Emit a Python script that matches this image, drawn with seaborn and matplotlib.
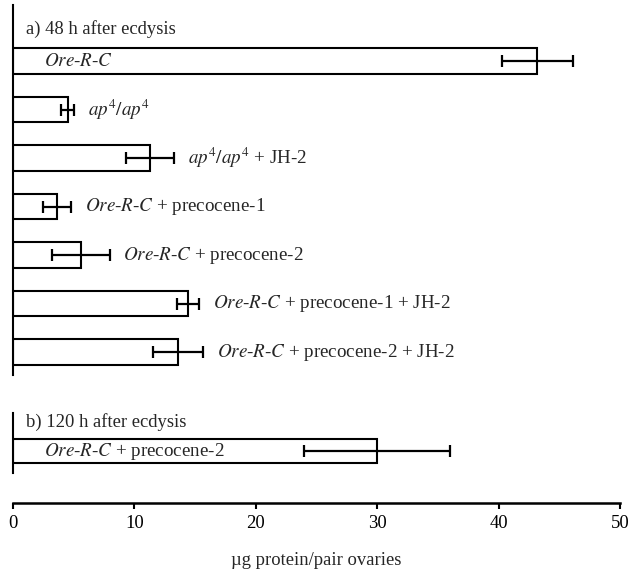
import numpy as np
import matplotlib
matplotlib.use("Agg")
import matplotlib.pyplot as plt
import seaborn as sns

# --- DATA ---
labels_a = [
    r"$Ore$-$R$-$C$",
    r"$ap^4/ap^4$",
    r"$ap^4/ap^4$ + JH-2",
    r"$Ore$-$R$-$C$ + precocene-1",
    r"$Ore$-$R$-$C$ + precocene-2",
    r"$Ore$-$R$-$C$ + precocene-1 + JH-2",
    r"$Ore$-$R$-$C$ + precocene-2 + JH-2",
]
means_a = [43.2, 4.5, 11.3, 3.6, 5.6, 14.4, 13.6]
errs_a = [2.9, 0.55, 2.0, 1.15, 2.35, 0.9, 2.05]

labels_b = [r"$Ore$-$R$-$C$ + precocene-2"]
means_b = [30.0]
errs_b = [6.0]

title_a = "a) 48 h after ecdysis"
title_b = "b) 120 h after ecdysis"
xlabel = "µg protein/pair ovaries"
xticks = [0, 10, 20, 30, 40, 50]

# --- STYLE ---
sns.set_style("ticks")
plt.rcParams["font.family"] = ["Liberation Serif", "DejaVu Serif"]
plt.rcParams["mathtext.fontset"] = "stix"

W, H = 629, 570
X0, X1 = 13, 620
FS = 13.4
FS_LAB = 13.7


def fig_axes(fig, top_px, bottom_px):
    return fig.add_axes([X0 / W, 1 - bottom_px / H, (X1 - X0) / W, (bottom_px - top_px) / H])


def draw_panel(ax, labels, means, errs, width, ylim, title, title_y):
    sns.barplot(x=means, y=labels, orient="h", color="white", edgecolor="black",
                linewidth=1.5, width=width, errorbar=None, ax=ax)
    pos = np.arange(len(means))
    ax.errorbar(means, pos, xerr=errs, fmt="none", ecolor="black",
                elinewidth=1.6, capsize=4.5, capthick=1.6)
    for m, e, p, lab in zip(means, errs, pos, labels):
        if m > 25:
            ax.annotate(lab, xy=(0, p), xytext=(22, 0), textcoords="offset points",
                        va="center", ha="left", fontsize=FS_LAB)
        else:
            ax.annotate(lab, xy=(m + e, p), xytext=(10, 0), textcoords="offset points",
                        va="center", ha="left", fontsize=FS_LAB)
    ax.set_xlim(0, 50)
    ax.set_ylim(*ylim)
    ax.set_yticks([])
    ax.set_xticks([])
    ax.set_xlabel("")
    ax.set_ylabel("")
    for s in ["top", "right", "bottom"]:
        ax.spines[s].set_visible(False)
    ax.spines["left"].set_linewidth(1.5)
    ax.spines["left"].set_color("black")
    ax.text(0.021, title_y, title, transform=ax.transAxes, fontsize=FS,
            va="center", ha="left")


fig = plt.figure(figsize=(W / 100, H / 100), dpi=100)

ax_a = fig_axes(fig, 5, 375)
draw_panel(ax_a, labels_a, means_a, errs_a, 0.52, (6.474, -1.155), title_a, 0.935)

ax_b = fig_axes(fig, 413, 473)
draw_panel(ax_b, labels_b, means_b, errs_b, 0.5, (0.45, -0.78), title_b, 0.85)

# shared value axis
ax_x = fig.add_axes([X0 / W, 1 - 503 / H, (X1 - X0) / W, 0.001])
ax_x.set_xlim(0, 50)
ax_x.set_xticks(xticks)
ax_x.set_yticks([])
for s in ["top", "right", "left"]:
    ax_x.spines[s].set_visible(False)
ax_x.spines["bottom"].set_linewidth(1.8)
ax_x.spines["bottom"].set_color("black")
ax_x.tick_params(axis="x", direction="out", length=4, width=1.5, pad=5,
                 labelsize=FS, colors="black")
ax_x.set_xlabel(xlabel, fontsize=FS, labelpad=14)
ax_x.patch.set_visible(False)

fig.savefig("out.png", dpi=100)
